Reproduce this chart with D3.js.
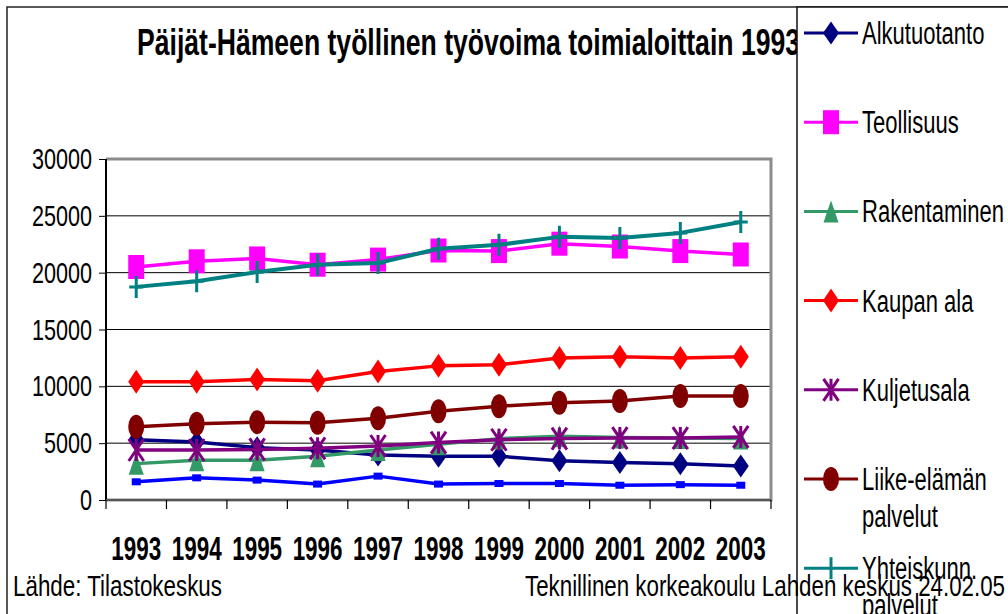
<!DOCTYPE html>
<html><head><meta charset="utf-8">
<script src="https://cdn.jsdelivr.net/npm/d3@7"></script>
<style>body{margin:0;background:#fff}svg{display:block;font-family:"Liberation Sans",Arial,sans-serif}</style>
</head><body><svg id="c" width="1008" height="614"></svg>
<script>
const years = ["1993","1994","1995","1996","1997","1998","1999","2000","2001","2002","2003"];
const yTicks = [0,5000,10000,15000,20000,25000,30000];
const seriesNames = ["Alkutuotanto","Teollisuus","Rakentaminen","Kaupan ala","Kuljetusala","Liike-elämän palvelut","Yhteiskunn. palvelut","Toimiala tuntematon"];
const alkutuotanto = [5300,5100,4600,4400,3950,3850,3850,3450,3300,3200,3000];
const teollisuus = [20500,21000,21250,20700,21150,21950,21900,22550,22300,21900,21600];
const rakentaminen = [3200,3500,3500,3850,4400,4900,5400,5600,5500,5450,5400];
const kaupanAla = [10400,10400,10600,10500,11300,11800,11900,12500,12600,12500,12600];
const kuljetusala = [4400,4400,4450,4550,4750,5050,5300,5400,5450,5450,5550];
const liikeElama = [6450,6700,6850,6800,7200,7800,8250,8550,8700,9150,9150];
const yhteiskunnalliset = [18750,19250,20050,20700,20850,22100,22450,23150,23050,23500,24450];
const tuntematon = [1600,1950,1750,1400,2100,1400,1450,1450,1300,1350,1300];
const titleText = "Päijät-Hämeen työllinen työvoima toimialoittain 1993-2003";
const sourceText = "Lähde: Tilastokeskus";
const creditText = "Teknillinen korkeakoulu Lahden keskus 24.02.05";

const seriesValues = [alkutuotanto,teollisuus,rakentaminen,kaupanAla,kuljetusala,liikeElama,yhteiskunnalliset,tuntematon];
const styles = [
  {color:"#000080", shape:"diamond", w:16, h:23},
  {color:"#FF00FF", shape:"square", w:16, h:24},
  {color:"#339966", shape:"triangle", w:15, h:22},
  {color:"#FF0000", shape:"diamond", w:16, h:24},
  {color:"#800080", shape:"star", w:15, h:22},
  {color:"#800000", shape:"circle", w:16, h:24},
  {color:"#008080", shape:"plus", w:14, h:22},
  {color:"#0000FF", shape:"square", w:9, h:7}
];

const svg = d3.select("#c");
const SQ = 0.74;
function condense(sel, factor){
  sel.each(function(){
    const len = this.getComputedTextLength();
    d3.select(this).attr("textLength", len*factor).attr("lengthAdjust","spacingAndGlyphs");
  });
}

svg.append("rect").attr("width",1008).attr("height",614).attr("fill","#fff");
// chart border
svg.append("rect").attr("x",7).attr("y",7).attr("width",1100).attr("height",700)
  .attr("fill","none").attr("stroke","#222").attr("stroke-width",1.5);

// title
const title = svg.append("text").attr("x",137).attr("y",55)
  .attr("font-size",36).attr("font-weight","bold").attr("fill","#000").text(titleText);
{
  const tmp = svg.append("text").attr("font-size",36).attr("font-weight","bold")
    .text(titleText.slice(0, titleText.indexOf("1993")+4));
  const pre = tmp.node().getComputedTextLength(); tmp.remove();
  const full = title.node().getComputedTextLength();
  title.attr("textLength", full*663/pre).attr("lengthAdjust","spacingAndGlyphs");
}

const x = d3.scaleBand().domain(years).range([106,771]);
const y = d3.scaleLinear().domain([0,30000]).range([500,159]);

const plot = svg.append("g");
// gridlines
plot.selectAll("line.grid").data(yTicks.filter(d=>d>0 && d<30000)).join("line")
  .attr("x1",106).attr("x2",771).attr("y1",d=>y(d)).attr("y2",d=>y(d))
  .attr("stroke","#000").attr("stroke-width",1);
// plot border (gray)
plot.append("path").attr("d",`M106,${y(30000)}H771V${y(0)}H106`)
  .attr("fill","none").attr("stroke","#8c8c8c").attr("stroke-width",3);

// y axis
const yAxis = d3.axisLeft(y).tickValues(yTicks).tickSize(7).tickPadding(6).tickFormat(d3.format("d"));
const ya = svg.append("g").attr("transform","translate(106,0)").call(yAxis);
ya.select(".domain").attr("stroke","#000").attr("stroke-width",2).attr("d",`M0,${y(30000)}V${y(0)}`);
ya.selectAll(".tick line").attr("stroke","#000");
ya.selectAll(".tick text").attr("font-size",30).attr("font-family","Liberation Sans, Arial, sans-serif")
  .attr("fill","#000").attr("dy","0.32em").attr("x",-14);
condense(ya.selectAll(".tick text"), 0.72);

// x axis
const xa = svg.append("g").attr("transform",`translate(0,${y(0)})`);
xa.append("line").attr("x1",106).attr("x2",771).attr("stroke","#555").attr("stroke-width",2);
xa.selectAll("line.tk").data(years.concat(["end"])).join("line")
  .attr("x1",(d,i)=>i<years.length?x(d):771).attr("x2",(d,i)=>i<years.length?x(d):771)
  .attr("y1",0).attr("y2",9).attr("stroke","#000").attr("stroke-width",1.2);
xa.selectAll("text").data(years).join("text")
  .attr("x",d=>x(d)+x.bandwidth()/2).attr("y",60).attr("text-anchor","middle")
  .attr("font-size",33).attr("font-weight","bold").attr("fill","#000").text(d=>d);
condense(xa.selectAll("text"), 0.68);

// markers
function marker(g, s){
  const w=s.w, h=s.h, c=s.color;
  if(s.shape==="diamond") g.append("path").attr("d",`M0,${-h/2}L${w/2},0L0,${h/2}L${-w/2},0Z`).attr("fill",c);
  else if(s.shape==="square") g.append("rect").attr("x",-w/2).attr("y",-h/2).attr("width",w).attr("height",h).attr("fill",c);
  else if(s.shape==="triangle") g.append("path").attr("d",`M0,${-h/2}L${w/2},${h/2}L${-w/2},${h/2}Z`).attr("fill",c);
  else if(s.shape==="circle") g.append("ellipse").attr("rx",w/2).attr("ry",h/2).attr("fill",c);
  else if(s.shape==="star") g.append("path").attr("d",`M${-w/2},${-h/2}L${w/2},${h/2}M${w/2},${-h/2}L${-w/2},${h/2}M0,${-h/2}V${h/2}`).attr("stroke",c).attr("stroke-width",3).attr("fill","none");
  else if(s.shape==="plus") g.append("path").attr("d",`M${-w/2},0H${w/2}M0,${-h/2}V${h/2}`).attr("stroke",c).attr("stroke-width",3).attr("fill","none");
}

const line = d3.line().x((d,i)=>x(years[i])+x.bandwidth()/2).y(d=>y(d));
seriesValues.forEach((vals,k)=>{
  const s = styles[k];
  const g = svg.append("g");
  g.append("path").attr("d",line(vals)).attr("fill","none").attr("stroke",s.color)
    .attr("stroke-width",k===6?4:3.5).attr("stroke-linejoin","round");
  vals.forEach((v,i)=>{
    const m = g.append("g").attr("transform",`translate(${x(years[i])+x.bandwidth()/2},${y(v)})`);
    marker(m, s);
  });
});

// legend
svg.append("rect").attr("x",797).attr("y",7).attr("width",400).attr("height",800)
  .attr("fill","#fff").attr("stroke","#111").attr("stroke-width",1.5);
const legY = d3.scaleLinear().domain([0,1]).range([33,122.2]);
seriesNames.forEach((name,k)=>{
  const s = styles[k];
  const cy = legY(k);
  const g = svg.append("g").attr("transform",`translate(0,${cy})`);
  g.append("line").attr("x1",804).attr("x2",858).attr("stroke",s.color).attr("stroke-width",3);
  const m = g.append("g").attr("transform","translate(831,0)");
  marker(m, s.shape==="plus" ? {...s, w:0} : (k===7?{...s,w:12,h:10}:s));
  let lines;
  if(name==="Liike-elämän palvelut") lines=["Liike-elämän","palvelut"];
  else if(name==="Yhteiskunn. palvelut") lines=["Yhteiskunn.","palvelut"];
  else if(name==="Toimiala tuntematon") lines=["Toimiala","tuntematon"];
  else lines=[name];
  const t = g.selectAll("text").data(lines).join("text")
    .attr("x",862).attr("y",(d,i)=>11+i*37).attr("font-size",31).attr("fill","#000").text(d=>d);
  condense(t, 0.71);
});

// footer
const src = svg.append("text").attr("x",13).attr("y",596).attr("font-size",30).attr("fill","#000").text(sourceText);
condense(src, 209/src.node().getComputedTextLength());
const cr = svg.append("text").attr("x",525).attr("y",596).attr("font-size",30).attr("fill","#000").text(creditText);
condense(cr, 480/cr.node().getComputedTextLength());
</script></body></html>
